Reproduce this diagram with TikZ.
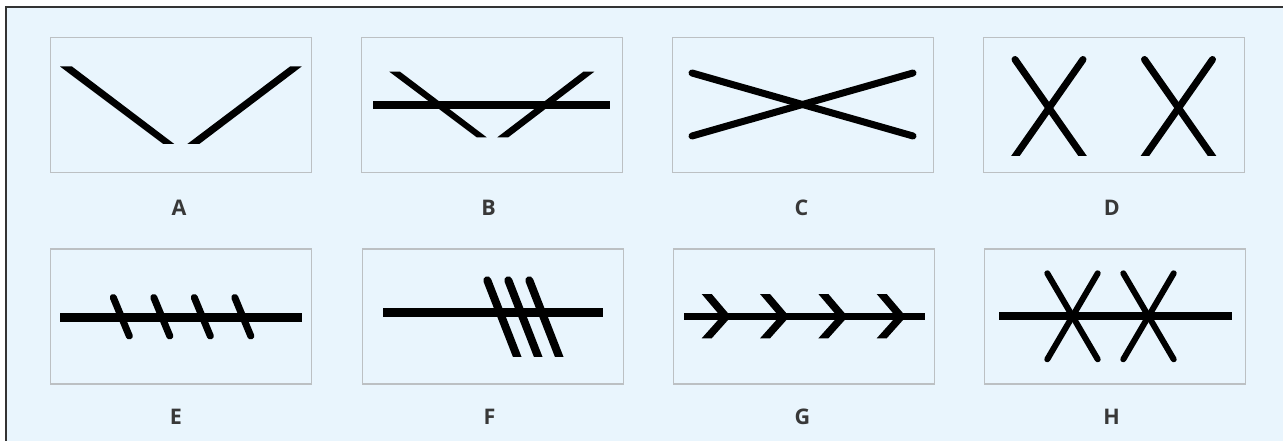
\documentclass[tikz,border=0pt]{standalone}
\usepackage{fontspec}
\setmainfont{Open Sans}
\definecolor{bgblue}{HTML}{E9F5FD}
\definecolor{panelgray}{HTML}{BCC0C3}
\definecolor{labelgray}{HTML}{383838}
\definecolor{framedark}{HTML}{333333}
\begin{document}
\begin{tikzpicture}[x=1pt,y=-1pt,
  panel/.style={draw=panelgray, line width=1.4pt, minimum width=261pt, minimum height=135pt, inner sep=0pt},
  lbl/.style={font=\bfseries\fontsize{21.5}{21.5}\selectfont, text=labelgray, inner sep=0pt},
  ink/.style={line width=7pt, draw=black, line cap=round},
  inkfill/.style={fill=black}]
\useasboundingbox (0,0) rectangle (1283,441);
\fill[white] (0,0) rectangle (1283,441);
\fill[bgblue] (5.8,7.5) rectangle (1283,441);
\draw[framedark, line width=2pt] (5.8,441) -- (5.8,7.5) -- (1283,7.5);

% panels
\node[panel] (pA) at (181,104.8) {};
\node[panel] (pB) at (492,104.8) {};
\node[panel] (pC) at (803,104.8) {};
\node[panel] (pD) at (1114,104.8) {};
\node[panel] (pE) at (181,316.3) {};
\node[panel] (pF) at (492.8,316.3) {};
\node[panel] (pG) at (803.8,316.3) {};
\node[panel] (pH) at (1115,316.3) {};

% labels
\node[lbl] (lA) at (179,208) {A};
\node[lbl] (lB) at (488.5,208) {B};
\node[lbl] (lC) at (801.5,208) {C};
\node[lbl] (lD) at (1111.7,208) {D};
\node[lbl] (lE) at (176,417) {E};
\node[lbl] (lF) at (489.5,417) {F};
\node[lbl] (lG) at (802.3,417) {G};
\node[lbl] (lH) at (1111.7,417) {H};

% A
\fill[inkfill] (60,66.5) -- (72,66.5) -- (174.3,144) -- (163.3,144) -- cycle;
\fill[inkfill] (290,66.5) -- (301.7,66.5) -- (199.3,144) -- (187.3,144) -- cycle;

% B
\fill[inkfill] (372.7,101) rectangle (610,108.7);
\fill[inkfill] (389.3,71.7) -- (400,71.7) -- (486.7,137.3) -- (476.7,137.3) -- cycle;
\fill[inkfill] (583.3,71.7) -- (594.3,71.7) -- (508.3,137.3) -- (497.3,137.3) -- cycle;

% C
\draw[ink] (692,73) -- (913,136);
\draw[ink] (692,136) -- (913,73);

% D
\begin{scope}
\clip (990,40) rectangle (1240,155.3);
\draw[ink] (1015,59.5) -- (1084,158);
\draw[ink] (1083,59.5) -- (1014,158);
\draw[ink] (1144.5,59.5) -- (1213.5,158);
\draw[ink] (1212.5,59.5) -- (1143.5,158);
\end{scope}

% E
\fill[inkfill] (60,313.3) rectangle (301.7,321.7);
\foreach \dx in {0,40.5,81,121.5}{
  \draw[ink] (113.3+\dx,297.5) -- (129.3+\dx,336);
}

% F
\fill[inkfill] (383.3,308.3) rectangle (602.7,316.7);
\begin{scope}
\clip (470,270) rectangle (600,356.7);
\foreach \dx in {0,21,42}{
  \draw[ink, line width=8pt] (487.3+\dx,280.3) -- (519.4+\dx,362.5);
}
\end{scope}

% G
\fill[inkfill] (684,313.3) rectangle (925,320);
\foreach \dx in {0,58.33,116.67,175}{
  \fill[inkfill] (701.7+\dx,294) -- (711.7+\dx,294) -- (731+\dx,316.7) -- (711.7+\dx,338.3) -- (701.7+\dx,338.3) -- (721+\dx,316.7) -- cycle;
}

% H
\fill[inkfill] (999.3,312.3) rectangle (1231.7,320);
\draw[ink, line width=6pt] (1047.3,273.3) -- (1097.7,359.3);
\draw[ink, line width=6pt] (1097.7,273.3) -- (1047.3,359.3);
\draw[ink, line width=6pt] (1123.3,273.3) -- (1173.7,359.3);
\draw[ink, line width=6pt] (1173.7,273.3) -- (1123.3,359.3);
\end{tikzpicture}
\end{document}
